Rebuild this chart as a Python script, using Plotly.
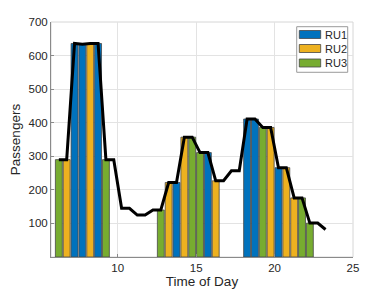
import plotly.graph_objects as go

# Demand line (half-hour slots)
line_times = [6.25, 6.75, 7.25, 7.75, 8.25, 8.75, 9.25, 9.75, 10.25, 10.75,
              11.25, 11.75, 12.25, 12.75, 13.25, 13.75, 14.25, 14.75, 15.25, 15.75,
              16.25, 16.75, 17.25, 17.75, 18.25, 18.75, 19.25, 19.75, 20.25, 20.75,
              21.25, 21.75, 22.25, 22.75, 23.25]
line_values = [290, 290, 636, 634, 636, 636, 290, 290, 145, 145,
               125, 125, 140, 140, 222, 222, 357, 357, 311, 311,
               227, 227, 257, 257, 411, 411, 386, 386, 266, 266,
               176, 176, 101, 101, 82]

# Bars per resource unit
ru1_times = [7.25, 7.75, 8.75, 13.75, 15.75, 18.25, 18.75, 20.25]
ru1_values = [636, 634, 636, 222, 311, 411, 411, 266]
ru2_times = [6.75, 8.25, 13.25, 14.25, 16.25, 19.75, 20.75, 21.25]
ru2_values = [290, 636, 222, 357, 227, 386, 266, 176]
ru3_times = [6.25, 9.25, 12.75, 14.75, 15.25, 19.25, 21.75, 22.25]
ru3_values = [290, 290, 140, 357, 311, 386, 176, 101]

series_names = ["RU1", "RU2", "RU3"]
series_colors = ["#0072BD", "#EDB120", "#77AC30"]

x_ticks = [10, 15, 20, 25]
y_ticks = [100, 200, 300, 400, 500, 600, 700]

FONT = "Liberation Sans, Arial, Helvetica, sans-serif"
edge = dict(color="rgb(70,70,70)", width=0.8)

fig = go.Figure()
for name, color, xs, ys in zip(series_names, series_colors,
                               [ru1_times, ru2_times, ru3_times],
                               [ru1_values, ru2_values, ru3_values]):
    fig.add_trace(go.Bar(x=xs, y=ys, name=name, width=0.44,
                         marker=dict(color=color, line=edge)))
fig.add_trace(go.Scatter(x=line_times, y=line_values, mode="lines", name="Demand",
                         line=dict(color="black", width=3)))

fig.update_layout(
    width=390, height=293,
    margin=dict(l=51, r=37, t=22, b=36),
    paper_bgcolor="white", plot_bgcolor="white",
    barmode="overlay",
    font=dict(family=FONT, size=11.5, color="#262626"),
    showlegend=False,
)
fig.update_xaxes(range=[5.75, 25], tickvals=x_ticks, ticktext=[str(v) for v in x_ticks],
                 automargin=False,
                 showgrid=True, gridcolor="#e3e3e3", gridwidth=1,
                 showline=True, linecolor="#8a8a8a", linewidth=1, mirror=False,
                 ticks="inside", ticklen=3, tickcolor="#8a8a8a",
                 zeroline=False,
                 title=dict(text="Time of Day", font=dict(size=13.5, color="#262626"), standoff=0))
fig.update_yaxes(range=[0, 700], tickvals=y_ticks, ticktext=[str(v) for v in y_ticks],
                 automargin=False,
                 showgrid=True, gridcolor="#e3e3e3", gridwidth=1,
                 showline=True, linecolor="#8a8a8a", linewidth=1, mirror=False,
                 ticks="inside", ticklen=3, tickcolor="#8a8a8a",
                 zeroline=False,
                 title=dict(text="Passengers", font=dict(size=13.5, color="#262626"), standoff=4))

# light frame on top/right of the plot area
fig.add_shape(type="rect", xref="paper", yref="paper", x0=0, y0=0, x1=1, y1=1,
              line=dict(color="#d6d6d6", width=1), layer="below")

# legend box (MATLAB style, wide swatches)
fig.add_shape(type="rect", xref="paper", yref="paper", x0=0.8136, x1=0.9825, y0=0.786, y1=0.98,
              line=dict(color="#9a9a9a", width=1), fillcolor="white", layer="above")
row_y = [0.9468, 0.8872, 0.8255]
for name, color, yc in zip(series_names, series_colors, row_y):
    fig.add_shape(type="rect", xref="paper", yref="paper", x0=0.8222, x1=0.8930,
                  y0=yc - 0.017, y1=yc + 0.017, fillcolor=color,
                  line=dict(color="rgb(70,70,70)", width=0.8), layer="above")
    fig.add_annotation(xref="paper", yref="paper", x=0.9007, y=yc, text=name,
                       showarrow=False, xanchor="left", yanchor="middle",
                       font=dict(size=11, color="#262626"))

fig.write_html("out.html", config={"displayModeBar": False},
               post_script="document.body.style.margin='0';")
